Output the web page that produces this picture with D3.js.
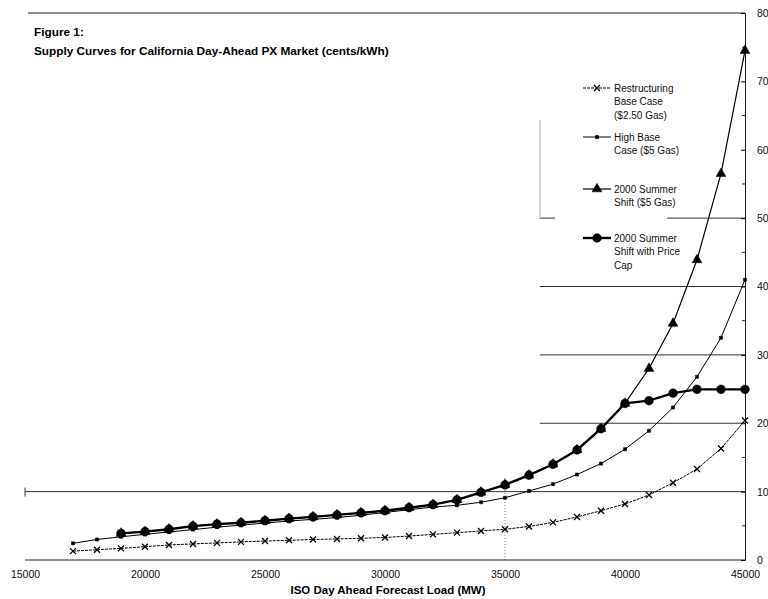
<!DOCTYPE html>
<html><head><meta charset="utf-8">
<script src="https://cdn.jsdelivr.net/npm/d3@7"></script>
<style>
html,body{margin:0;padding:0;background:#fff;}
svg{display:block;font-family:"Liberation Sans",Arial,sans-serif;}
</style></head>
<body>
<svg id="chart" width="768" height="599"></svg>
<script>
// ---------- data ----------
const loads = [17000,18000,19000,20000,21000,22000,23000,24000,25000,26000,27000,28000,29000,30000,31000,32000,33000,34000,35000,36000,37000,38000,39000,40000,41000,42000,43000,44000,45000];
const restructuringBase = [1.3,1.5,1.7,1.95,2.2,2.35,2.5,2.65,2.78,2.88,3.0,3.08,3.18,3.3,3.5,3.75,4.0,4.25,4.5,4.9,5.5,6.3,7.2,8.2,9.5,11.3,13.3,16.3,20.4];
const highBase = [2.44,3.0,3.4,3.75,4.1,4.45,4.8,5.1,5.4,5.7,5.95,6.2,6.55,6.95,7.35,7.75,8.0,8.45,9.1,10.1,11.1,12.5,14.1,16.2,18.9,22.3,26.8,32.5,41.0];
const summerLoads = [19000,20000,21000,22000,23000,24000,25000,26000,27000,28000,29000,30000,31000,32000,33000,34000,35000,36000,37000,38000,39000,40000,41000,42000,43000,44000,45000];
const summerShift = [3.9,4.15,4.5,4.95,5.25,5.45,5.75,6.05,6.3,6.6,6.9,7.2,7.65,8.1,8.8,9.9,11.0,12.4,14.0,16.1,19.2,22.9,28.0,34.6,43.9,56.5,74.5];
const priceCap = [3.9,4.15,4.5,4.95,5.25,5.45,5.75,6.05,6.3,6.6,6.9,7.2,7.65,8.1,8.8,9.9,11.0,12.4,14.0,16.1,19.2,22.9,23.3,24.4,24.96,24.96,24.96];
const xTicks = [15000,20000,25000,30000,35000,40000,45000];
const yTicks = [0,10,20,30,40,50,60,70,80];
const yMinorTicks = [5,15,25,35,45,55,65,75];
const fullGrid = [10];
const partialGrid = [20,30,40,50];
const seriesNames = [
  ["Restructuring","Base Case","($2.50 Gas)"],
  ["High Base","Case ($5 Gas)"],
  ["2000 Summer","Shift ($5 Gas)"],
  ["2000 Summer","Shift with Price","Cap"]
];
const titleLines = ["Figure 1:","Supply Curves for California Day-Ahead PX Market (cents/kWh)"];
const xTitle = "ISO Day Ahead Forecast Load (MW)";

// ---------- layout ----------
const svg = d3.select("#chart");
const x = d3.scaleLinear().domain([15000,45000]).range([25,745]);
const y = d3.scaleLinear().domain([0,80]).range([560,13]);

// titles
svg.append("text").attr("x",34).attr("y",36).attr("font-size","11.8px").attr("font-weight","bold").text(titleLines[0]);
svg.append("text").attr("x",34).attr("y",55).attr("font-size","11.8px").attr("font-weight","bold").text(titleLines[1]);

// gridlines
svg.selectAll(".gfull").data(fullGrid).enter().append("line")
  .attr("x1",x(15000)).attr("x2",x(45000)).attr("y1",d=>y(d)).attr("y2",d=>y(d))
  .attr("stroke","#333").attr("stroke-width",1);
svg.selectAll(".gpart").data(partialGrid).enter().append("line")
  .attr("x1",x(36450)).attr("x2",x(45000)).attr("y1",d=>y(d)).attr("y2",d=>y(d))
  .attr("stroke","#333").attr("stroke-width",1);
// legend box background (interrupts gridline)
svg.append("rect").attr("x",555).attr("y",75).attr("width",112).attr("height",200).attr("fill","#fff");
// faint legend border
svg.append("line").attr("x1",540).attr("x2",540).attr("y1",120).attr("y2",218).attr("stroke","#aaa").attr("stroke-width",1);
// dotted vertical at 35000
svg.append("line").attr("x1",x(35000)).attr("x2",x(35000)).attr("y1",y(12)).attr("y2",y(0))
  .attr("stroke","#777").attr("stroke-width",1).attr("stroke-dasharray","1,2");
// little left tick at 10
svg.append("line").attr("x1",x(15000)).attr("x2",x(15000)).attr("y1",y(10)-4).attr("y2",y(10)+5).attr("stroke","#333");

// axes frame
svg.append("line").attr("x1",x(15000)).attr("x2",x(45000)).attr("y1",y(0)).attr("y2",y(0)).attr("stroke","#222").attr("stroke-width",1);
svg.append("line").attr("x1",28).attr("x2",x(45000)).attr("y1",y(80)).attr("y2",y(80)).attr("stroke","#222").attr("stroke-width",1);
const yAxis = d3.axisRight(y).tickValues(yTicks).tickSize(-4).tickPadding(12).tickFormat(d3.format("d"));
const yg = svg.append("g").attr("transform",`translate(${x(45000)},0)`).call(yAxis);
yg.select(".domain").attr("stroke","#222");
yg.selectAll("text").attr("font-size","10.5px").attr("font-family","'Liberation Sans',Arial,sans-serif").attr("fill","#111");
svg.selectAll(".ymin").data(yMinorTicks).enter().append("line")
  .attr("x1",x(45000)-3).attr("x2",x(45000)).attr("y1",d=>y(d)).attr("y2",d=>y(d)).attr("stroke","#222");

const xAxis = d3.axisBottom(x).tickValues(xTicks).tickSize(0).tickPadding(11).tickFormat(d3.format("d"));
const xg = svg.append("g").attr("transform",`translate(0,${y(0)})`).call(xAxis);
xg.select(".domain").remove();
xg.selectAll("text").attr("font-size","10.5px").attr("font-family","'Liberation Sans',Arial,sans-serif").attr("fill","#111");
svg.append("text").attr("x",388).attr("y",594).attr("text-anchor","middle").attr("font-size","11.5px").attr("font-weight","bold").text(xTitle);

// ---------- series ----------
const line = d3.line().x(d=>x(d[0])).y(d=>y(d[1]));
const s1 = loads.map((l,i)=>[l,restructuringBase[i]]);
const s2 = loads.map((l,i)=>[l,highBase[i]]);
const s3 = summerLoads.map((l,i)=>[l,summerShift[i]]);
const s4 = summerLoads.map((l,i)=>[l,priceCap[i]]);

const xMark = "M-3,-3L3,3M-3,3L3,-3";
const sq = d3.symbol().type(d3.symbolSquare).size(10)();
const tri = d3.symbol().type(d3.symbolTriangle).size(42)();
const circ = d3.symbol().type(d3.symbolCircle).size(60)();

function drawSeries(data, width, dash, markPath, markStroke){
  svg.append("path").datum(data).attr("d",line).attr("fill","none").attr("stroke","#000")
    .attr("stroke-width",width).attr("stroke-dasharray",dash||null);
  svg.append("g").selectAll("path").data(data).enter().append("path")
    .attr("d",markPath).attr("transform",d=>`translate(${x(d[0])},${y(d[1])})`)
    .attr("fill",markStroke?"none":"#000").attr("stroke","#000").attr("stroke-width",markStroke?1.3:0.5);
}
drawSeries(s1,1,"3,1",xMark,true);
drawSeries(s2,1,null,sq,false);
drawSeries(s3,1.2,null,tri,false);
drawSeries(s4,2.4,null,circ,false);

// ---------- legend ----------
const legY = [88,137,189,238];
const legMarks = [xMark,sq,tri,circ];
const legW = [1,1,1.2,2.4];
seriesNames.forEach((lines,i)=>{
  const g = svg.append("g");
  g.append("line").attr("x1",583).attr("x2",611).attr("y1",legY[i]).attr("y2",legY[i]).attr("stroke","#000").attr("stroke-width",legW[i]).attr("stroke-dasharray",i===0?"3,1":null);
  g.append("path").attr("d",legMarks[i]).attr("transform",`translate(597,${legY[i]})`)
    .attr("fill",i===0?"none":"#000").attr("stroke","#000").attr("stroke-width",i===0?1.3:0.5);
  lines.forEach((t,j)=>{
    g.append("text").attr("x",614).attr("y",legY[i]+3.5+j*13.5).attr("font-size","10px").attr("fill","#111").text(t);
  });
});
</script>
</body></html>
